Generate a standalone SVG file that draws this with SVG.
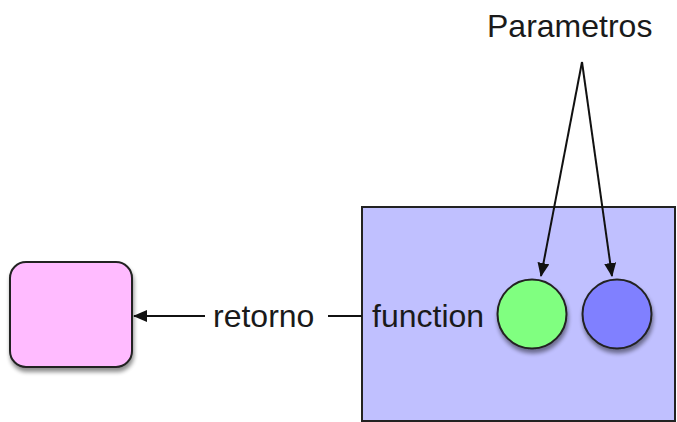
<svg xmlns="http://www.w3.org/2000/svg" width="677" height="422" viewBox="0 0 677 422">
<style>
.lbl{font-family:"Liberation Sans",Arial,sans-serif;font-size:32px;fill:#1a1a1a}
.ln{stroke:#111;stroke-width:2;fill:none}
.nd{stroke:#222;stroke-width:2}
</style>
<defs>
<marker id="ah" markerWidth="14" markerHeight="12" refX="13" refY="6" orient="auto" markerUnits="userSpaceOnUse">
<path d="M0,0 L14,6 L0,12 Z" fill="#111"/>
</marker>
<filter id="sh" x="-20%" y="-20%" width="150%" height="150%">
<feGaussianBlur in="SourceAlpha" stdDeviation="2"/>
<feOffset dx="1" dy="4"/>
<feComponentTransfer><feFuncA type="linear" slope="0.45"/></feComponentTransfer>
<feMerge><feMergeNode/><feMergeNode in="SourceGraphic"/></feMerge>
</filter>
</defs>
<rect width="677" height="422" fill="#fff"/>
<g id="function">
<rect x="362" y="207" width="313" height="214" fill="#C0C0FF" class="nd"/>
<text class="lbl" x="372" y="327">function</text>
</g>
<g id="result">
<rect x="10" y="262" width="122" height="105" rx="16" fill="#FFBBFF" class="nd" filter="url(#sh)"/>
</g>
<g id="param1">
<circle cx="532" cy="314" r="34.5" fill="#80FF80" class="nd" filter="url(#sh)"/>
</g>
<g id="param2">
<circle cx="617" cy="314" r="34.5" fill="#8080FF" class="nd" filter="url(#sh)"/>
</g>
<g id="parametros">
<text class="lbl" x="487" y="37">Parametros</text>
</g>
<g id="connectors">
<line class="ln" x1="205" y1="316" x2="134" y2="316" marker-end="url(#ah)"/>
<line class="ln" x1="328" y1="316" x2="362" y2="316"/>
<line class="ln" x1="582" y1="62" x2="541" y2="276" marker-end="url(#ah)"/>
<line class="ln" x1="582" y1="62" x2="612" y2="276" marker-end="url(#ah)"/>
<text class="lbl" x="213" y="327">retorno</text>
</g>
</svg>
